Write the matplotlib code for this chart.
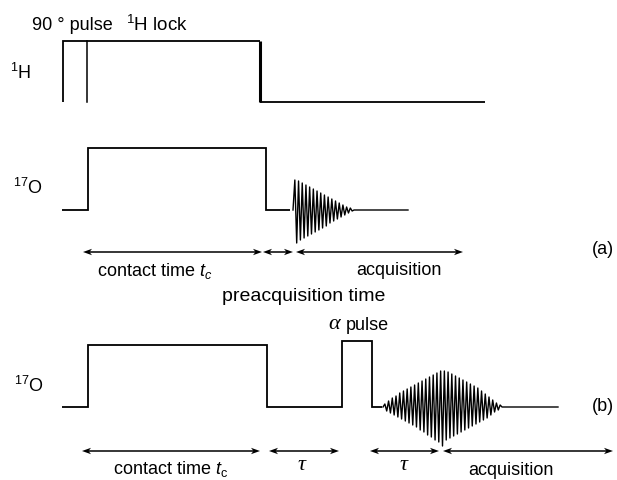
import numpy as np
import matplotlib
matplotlib.use("Agg")
import matplotlib.pyplot as plt
from matplotlib.patches import Polygon

plt.rcParams["font.family"] = ["Liberation Sans", "DejaVu Sans"]
plt.rcParams["mathtext.fontset"] = "custom"
plt.rcParams["mathtext.rm"] = "Liberation Sans"
plt.rcParams["mathtext.it"] = "Liberation Sans:italic"

# ---- timing of the pulse sequences (horizontal units = time axis) ----
# 1H channel: 90 degree pulse followed by spin lock
h1_times = [63, 63, 260, 260, 485]
h1_levels = [0, 1, 1, 0, 0]
h1_pulse_end = 87

# 17O channel, sequence (a): contact pulse, preacquisition delay, FID
o17a_times = [62, 88, 88, 266, 266, 290]
o17a_levels = [0, 0, 1, 1, 0, 0]
fid_a_start, fid_a_stop, fid_a_tail = 293, 354, 408
fid_a_peaks = [30, -33, 29, -30, 27, -28, 25, -26, 23, -24, 21, -22, 19, -20,
               17, -18, 15, -16, 13, -13, 11, -11, 9, -9, 7, -7, 5, -5, 3, -3, 2, -1]

# 17O channel, sequence (b): contact pulse, tau, alpha pulse, echo
o17b_times = [62, 88, 88, 267, 267, 342, 342, 372, 372, 382]
o17b_levels = [0, 0, 1, 1, 0, 0, 1.06, 1.06, 0, 0]
echo_start, echo_stop, echo_tail = 383, 502, 558
echo_peaks = [3, -4, 6, -6, 9, -8, 11, -10, 14, -12, 16, -14, 18, -16, 20, -18,
              22, -20, 24, -23, 26, -25, 28, -28, 30, -30, 32, -33, 34, -35,
              36, -39, 36, -33, 35, -31, 33, -29, 31, -27, 29, -25, 27, -23,
              25, -21, 23, -19, 21, -17, 19, -15, 16, -13, 13, -11, 10, -8,
              7, -5, 4, -3, 2]

# time intervals marked with double arrows
arrows_a = [(83, 262), (263, 293), (296, 463)]
arrows_b = [(82, 260), (269, 339), (370, 439), (443, 613)]

# ---- layout ----
W, H = 617, 481
fig = plt.figure(figsize=(W / 100, H / 100), dpi=100)
ax = fig.add_axes([0, 0, 1, 1])
ax.set_xlim(0, W)
ax.set_ylim(H, 0)
ax.axis("off")

base_h1, amp_h1 = 103, 61
base_a, amp_a = 211, 62
base_b, amp_b = 408, 62
arrow_y_a, arrow_y_b = 253, 452

lw = 1.3
k = "black"


def trace(times, levels, base, amp, **kw):
    ys = [base - l * amp for l in levels]
    ax.plot(times, ys, color=k, lw=kw.pop("lw", lw), solid_joinstyle="miter",
            solid_capstyle="butt", **kw)


def wiggle(start, stop, peaks, base, tail):
    xs = np.linspace(start, stop, len(peaks) + 2)
    ys = [base] + [base - p for p in peaks] + [base]
    ax.plot(list(xs) + [tail], ys + [base], color=k, lw=1.0,
            solid_joinstyle="round")


def head(x, y, direction, length=9, half=3.2, notch=2.5):
    # barbed arrow head pointing in +x (direction=1) or -x (direction=-1)
    d = direction
    pts = [(x, y), (x - d * length, y - half), (x - d * (length - notch), y),
           (x - d * length, y + half)]
    ax.add_patch(Polygon(pts, closed=True, color=k, lw=0))


def darrow(x0, x1, y):
    ax.plot([x0 + 3, x1 - 3], [y, y], color=k, lw=1.1, solid_capstyle="butt")
    head(x0, y, -1)
    head(x1, y, 1)


# 1H channel
trace(h1_times[:3], h1_levels[:3], base_h1, amp_h1)
trace(h1_times[2:4], h1_levels[2:4], base_h1, amp_h1, lw=2.2)
trace(h1_times[3:], h1_levels[3:], base_h1, amp_h1)
ax.plot([h1_pulse_end, h1_pulse_end], [base_h1, base_h1 - amp_h1], color=k, lw=1.1)

# 17O (a)
trace(o17a_times, o17a_levels, base_a, amp_a)
wiggle(fid_a_start, fid_a_stop, fid_a_peaks, base_a, fid_a_tail)

# 17O (b)
trace(o17b_times, o17b_levels, base_b, amp_b)
wiggle(echo_start, echo_stop, echo_peaks, base_b, echo_tail)

for x0, x1 in arrows_a:
    darrow(x0, x1, arrow_y_a)
for x0, x1 in arrows_b:
    darrow(x0, x1, arrow_y_b)

fs = 13
txt = dict(ha="center", va="center", fontsize=fs, color=k)
greek = dict(family="Liberation Serif", style="italic", ha="center",
             va="center", fontsize=16, color=k)
ax.text(72, 25, "90 ° pulse", **txt)
ax.text(157, 25, r"$^{1}$H lock", ha="center", va="center", fontsize=13.5, color=k)
ax.text(21, 73, r"$^{1}$H", **txt)
ax.text(28, 188, r"$^{17}$O", **txt)
ax.text(29, 386, r"$^{17}$O", **txt)

ax.text(155, 271, r"contact time $t_c$", **txt)
ax.text(399, 271, "acquisition", **txt)
ax.text(304, 297, "preacquisition time", ha="center", va="center",
        fontsize=14, color=k)
ax.text(603, 250, "(a)", **txt)

ax.text(170, 469, r"contact time $t_\mathrm{c}$", **txt)
ax.text(302, 466, "τ", **greek)
ax.text(404, 466, "τ", **greek)
ax.text(511, 471, "acquisition", **txt)
ax.text(603, 407, "(b)", **txt)
ax.text(334, 325, "α", **greek)
ax.text(367, 326, "pulse", **txt)

fig.savefig("out.png", dpi=100)
